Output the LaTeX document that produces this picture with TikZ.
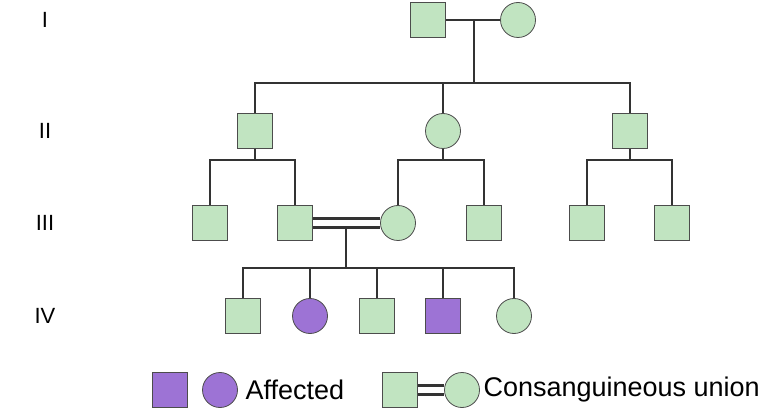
\documentclass[tikz,border=0pt]{standalone}
\usepackage{fontspec}
\setmainfont{Liberation Sans}
\begin{document}
\begin{tikzpicture}[x=1pt,y=-1pt]
		\tikzstyle{male}=[draw=black!70,fill=green!40!gray!35,line width=0.8pt,minimum size=35pt,inner sep=0pt]
		\tikzstyle{female}=[male,circle]
		\tikzstyle{affected}=[fill=violet!60!blue!55!white]
		\tikzstyle{tie}=[line width=2.6pt,black!80]
		\tikzstyle{gen}=[font=\fontsize{22}{24}\selectfont]
		\useasboundingbox (0,0) rectangle (782,414);
		\fill[white] (0,0) rectangle (782,414);

		% generation labels
		\foreach \y / \t in {20/I,131/II,223/III,316/IV} {\node[gen] (g\t) at (45,\y) {\t};}

		% persons
		\node[male] (a1) at (428,20) {};
		\node[female] (a2) at (518,20) {};
		\node[male] (b1) at (255,131) {};
		\node[female] (b2) at (443,131) {};
		\node[male] (b3) at (630,131) {};
		\foreach \x / \z in {210/1,295/2,484/4,587/5,672/6} {\node[male] (c\z) at (\x,223) {};}
		\node[female] (c3) at (398,223) {};
		\foreach \x / \z in {243/1,377/3} {\node[male] (d\z) at (\x,316) {};}
		\node[male,affected] (d4) at (443,316) {};
		\node[female,affected] (d2) at (310,316) {};
		\node[female] (d5) at (514,316) {};

		% lines of descent
		\coordinate (ua) at (474,20);
		\coordinate (ha) at (474,83);
		\draw[tie] (a1) -- (a2);
		\draw[tie] (ua) -- (ha);
		\draw[tie] (b1.north) |- (ha) -| (b3.north);
		\draw[tie] (b2.north) -- (b2.north |- ha);
		\foreach \p / \l / \r in {b1/c1/c2,b2/c3/c4,b3/c5/c6} {
			\draw[tie] (\p.south) -- ++(0,11) coordinate (h\p);
			\draw[tie] (\l.north) |- (h\p) -| (\r.north);
		}
		\draw[tie] ([yshift=-4.5pt]c2.east) -- ([yshift=-4.5pt]c3.west);
		\draw[tie] ([yshift=4.5pt]c2.east) -- ([yshift=4.5pt]c3.west);
		\coordinate (uc) at (346,228);
		\coordinate (hc) at (346,268);
		\draw[tie] (uc) -- (hc);
		\draw[tie] (d1.north) |- (hc) -| (d5.north);
		\foreach \z in {2,3,4} {\draw[tie] (d\z.north) -- (d\z.north |- hc);}

		% legend
		\node[male,affected] (k1) at (170,390) {};
		\node[female,affected] (k2) at (220,390) {};
		\node[anchor=west,font=\fontsize{27}{29}\selectfont] (k3) at (242,390) {Affected};
		\node[male] (k4) at (400,390) {};
		\node[female] (k5) at (462,390) {};
		\draw[tie] ([yshift=-4.5pt]k4.east) -- ([yshift=-4.5pt]k5.west);
		\draw[tie] ([yshift=4.5pt]k4.east) -- ([yshift=4.5pt]k5.west);
		\node[anchor=west,font=\fontsize{27}{29}\selectfont] (k6) at (480,390) {Consanguineous union};
	\end{tikzpicture}
\end{document}
